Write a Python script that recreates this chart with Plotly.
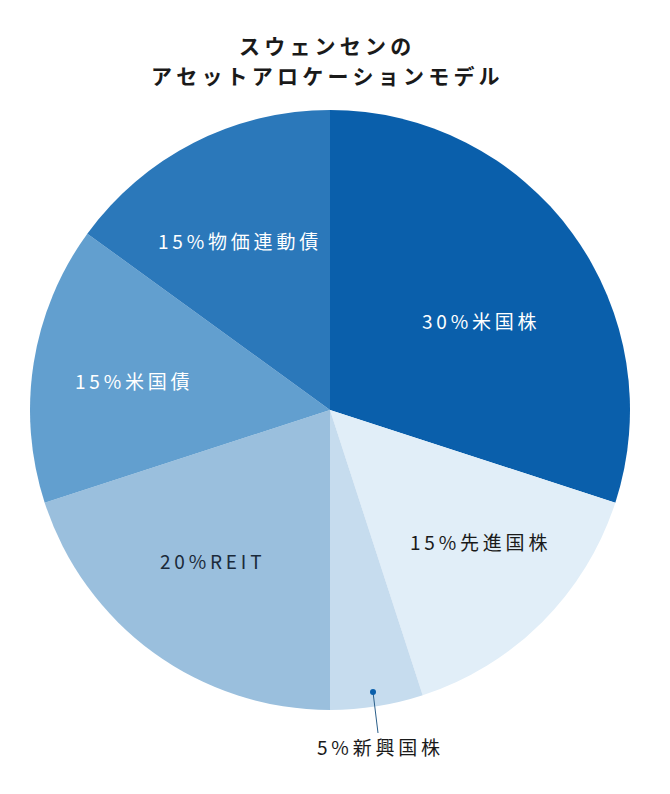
import plotly.graph_objects as go

W, H = 670, 794
OFF = 8  # page body margin offset

categories = ["米国株", "先進国株", "新興国株", "REIT", "米国債", "物価連動債"]
values = [30, 15, 5, 20, 15, 15]
colors = ["#0a5fab", "#e1eef8", "#c6dcee", "#9abfdd", "#629fcf", "#2b78ba"]
text_colors = ["#ffffff", "#1a1a1a", "#1a1a1a", "#1a2a3a", "#ffffff", "#ffffff"]
# label centre positions in page pixels (style only)
label_pos = [(479, 320), (478, 541), (378, 746), (211, 560), (132, 380), (238, 240)]

title_lines = ["スウェンセンの", "アセットアロケーションモデル"]

FONT = "Noto Sans CJK JP"

cx, cy, r = 330 - OFF, 410 - OFF, 300


def px2paper(x, y):
    return (x - OFF) / W, 1 - (y - OFF) / H


fig = go.Figure(go.Pie(
    values=values,
    labels=categories,
    sort=False,
    direction="clockwise",
    rotation=0,
    marker=dict(colors=colors, line=dict(width=0)),
    textinfo="none",
    hoverinfo="label+percent",
    showlegend=False,
    domain=dict(x=[(cx - r) / W, (cx + r) / W], y=[1 - (cy + r) / H, 1 - (cy - r) / H]),
))


def spaced(s):
    return "\u2009".join(s)


annotations = []
for i, (cat, v) in enumerate(zip(categories, values)):
    ax_, ay_ = px2paper(*label_pos[i])
    annotations.append(dict(
        x=ax_, y=ay_, xref="paper", yref="paper",
        text=spaced(f"{v}%{cat}"), showarrow=False,
        font=dict(family=FONT, size=19, color=text_colors[i]),
        xanchor="center", yanchor="middle",
    ))

for j, line in enumerate(title_lines):
    tx, ty = px2paper(325, 45 + 30 * j)
    annotations.append(dict(
        x=tx, y=ty, xref="paper", yref="paper",
        text="<b>" + spaced(line) + "</b>", showarrow=False,
        font=dict(family=FONT, size=21, color="#1a1a1a"),
        xanchor="center", yanchor="middle",
    ))

l0 = px2paper(373, 692)
l1 = px2paper(378, 733)
c0 = px2paper(370, 695)
c1 = px2paper(376, 689)
shapes = [
    dict(type="line", xref="paper", yref="paper",
         x0=l0[0], y0=l0[1], x1=l1[0], y1=l1[1],
         line=dict(color="#2b5f8a", width=1)),
    dict(type="circle", xref="paper", yref="paper",
         x0=c0[0], y0=c0[1], x1=c1[0], y1=c1[1],
         fillcolor="#0a5fab", line=dict(width=0)),
]

fig.update_layout(
    width=W, height=H,
    margin=dict(l=0, r=0, t=0, b=0),
    paper_bgcolor="#ffffff",
    plot_bgcolor="#ffffff",
    annotations=annotations,
    shapes=shapes,
)

fig.write_html("out.html")
